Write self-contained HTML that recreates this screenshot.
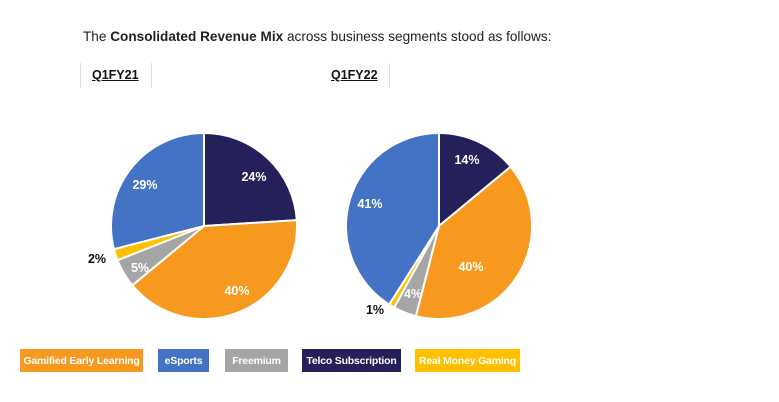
<!DOCTYPE html>
<html><head><style>
body{margin:0;width:779px;height:402px;background:#fff;font-family:"Liberation Sans",sans-serif;position:relative;overflow:hidden}
.t{position:absolute;left:83px;top:29px;font-size:13.6px;color:#222;white-space:nowrap}
.h{position:absolute;font-size:12.5px;font-weight:bold;text-decoration:underline;color:#111}
.v{position:absolute;width:1px;background:#ddd;top:63px;height:25px}
.l{position:absolute;top:349px;height:23px;color:#fff;font-size:10.5px;font-weight:bold;display:flex;align-items:center;justify-content:center;white-space:nowrap;letter-spacing:-0.2px}
</style></head><body>
<div class="t">The <b>Consolidated Revenue Mix</b> across business segments stood as follows:</div>
<div class="v" style="left:80px"></div><div class="v" style="left:151px"></div><div class="v" style="left:389px"></div>
<div class="h" style="left:92px;top:68px">Q1FY21</div>
<div class="h" style="left:331px;top:68px">Q1FY22</div>
<svg id="s" width="779" height="402" style="position:absolute;left:0;top:0"></svg>
<div class="l" style="left:20px;width:123px;background:#F7991E">Gamified Early Learning</div>
<div class="l" style="left:158px;width:51px;background:#4472C4">eSports</div>
<div class="l" style="left:225px;width:63px;background:#A5A5A5">Freemium</div>
<div class="l" style="left:302px;width:99px;background:#23205A">Telco Subscription</div>
<div class="l" style="left:415px;width:105px;background:#FFC000">Real Money Gaming</div>
<script>
var C=["#23205A","#F7991E","#A5A5A5","#FFC000","#4472C4"];
function pie(cx,cy,r,v){var a=0,s="";for(var i=0;i<v.length;i++){var a0=a*2*Math.PI/100,a1=(a+v[i])*2*Math.PI/100;
var x0=cx+r*Math.sin(a0),y0=cy-r*Math.cos(a0),x1=cx+r*Math.sin(a1),y1=cy-r*Math.cos(a1);
s+='<path d="M'+cx+' '+cy+'L'+x0+' '+y0+'A'+r+' '+r+' 0 '+(v[i]>50?1:0)+' 1 '+x1+' '+y1+'Z" fill="'+C[i]+'" stroke="#fff" stroke-width="2"/>';a+=v[i];}return s;}
function t(x,y,s,c){return '<text x="'+x+'" y="'+y+'" fill="'+(c||"#fff")+'" font-size="12.5" font-weight="bold" text-anchor="middle" font-family="Liberation Sans,sans-serif">'+s+'</text>';}
var h=pie(204,226,93,[24,40,5,2,29])+pie(439,226,93,[14,40,4,1,41]);
h+=t(254,181,"24%")+t(237,295,"40%")+t(140,272,"5%")+t(97,263,"2%","#111")+t(145,189,"29%");
h+=t(467,164,"14%")+t(471,271,"40%")+t(413,298,"4%")+t(375,314,"1%","#111")+t(370,208,"41%");
document.getElementById("s").innerHTML=h;
</script>
</body></html>
